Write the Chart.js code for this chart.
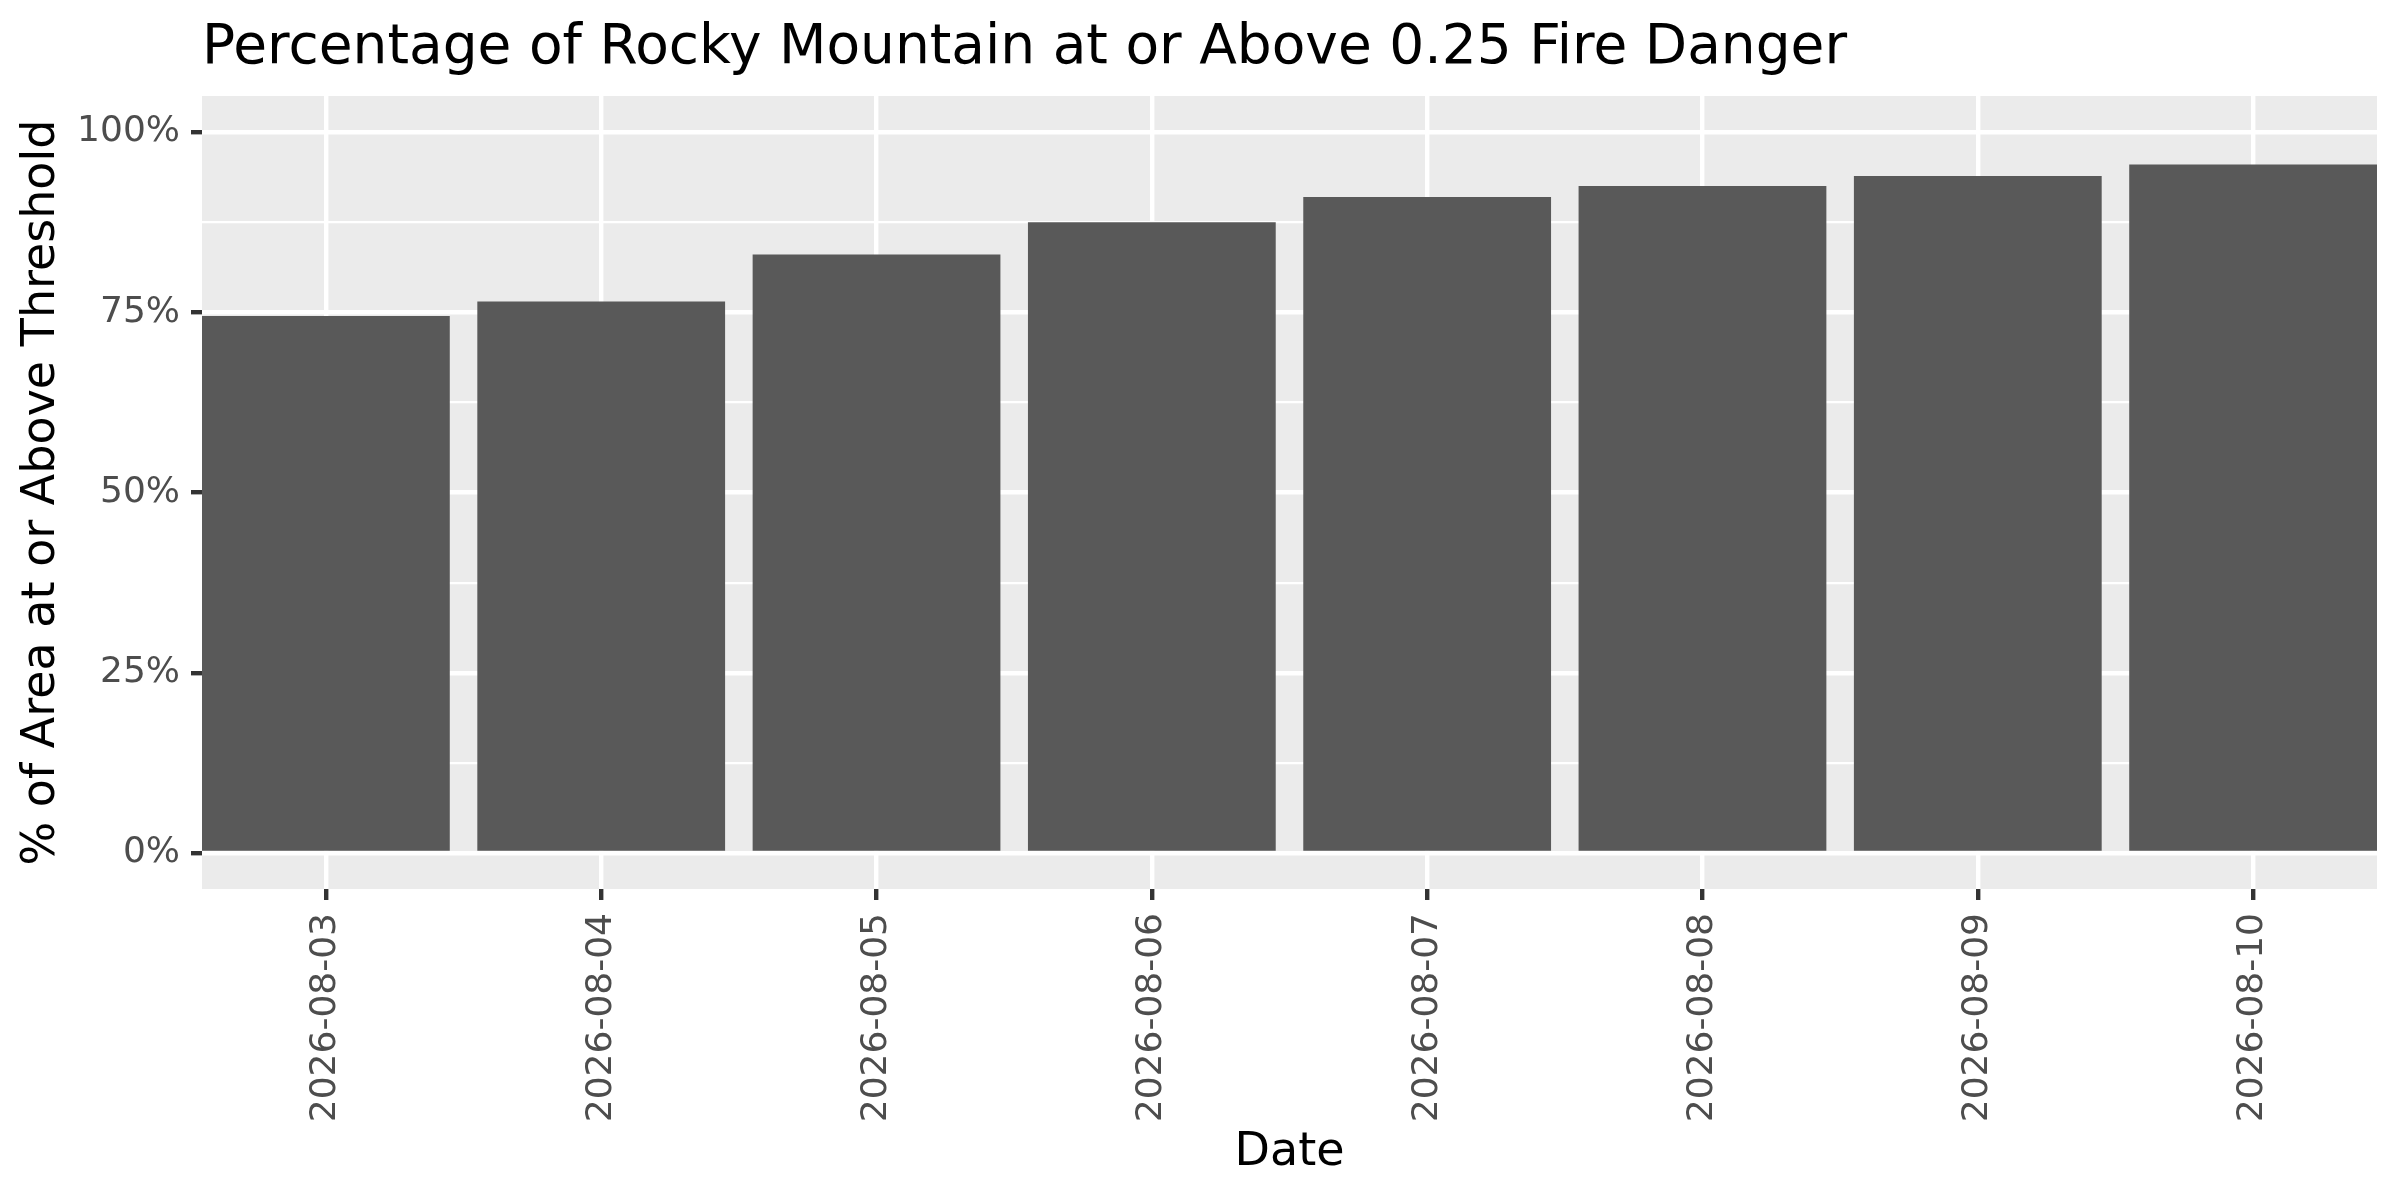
<!DOCTYPE html>
<html>
<head>
<meta charset="utf-8">
<title>Rocky Mountain fire danger</title>
<script src="https://cdn.jsdelivr.net/npm/chart.js@4.4.1/dist/chart.umd.min.js"></script>
<style>
    body { margin: 0; background: #ffffff; }
    #chart { display: block; }
</style>
</head>
<body>
<canvas id="chart" width="2400" height="1200"></canvas>
<script>
const plotTitle = 'Percentage of Rocky Mountain at or Above 0.25 Fire Danger';
const dates = ['2026-08-03', '2026-08-04', '2026-08-05', '2026-08-06',
               '2026-08-07', '2026-08-08', '2026-08-09', '2026-08-10'];
const pctAbove = [74.5, 76.5, 83.0, 87.5, 91.0, 92.5, 93.9, 95.5];
const yBreaks = [0, 25, 50, 75, 100];
const yLabels = ['0%', '25%', '50%', '75%', '100%'];
const yMinorBreaks = [12.5, 37.5, 62.5, 87.5];

const barWidth = 0.9;   // in days, like geom_col
const textGrey = '#4D4D4D';
const tickGrey = '#333333';

// minor breaks on the date axis sit halfway between days
function minorDateBreaks(){
    let out = [];
    for (let i = 0; i < dates.length - 1; i++) {
        out.push(i + 0.5);
    }
    return out
}

const panelBg = {
    id: 'panelBg',
    beforeDraw(chart) {
        const {ctx, chartArea} = chart;
        ctx.save();
        ctx.fillStyle = '#EBEBEB';
        ctx.fillRect(chartArea.left, chartArea.top,
                     chartArea.right - chartArea.left, chartArea.bottom - chartArea.top);
        ctx.restore();
    }
};

const titleLeft = {
    id: 'titleLeft',
    afterDraw(chart) {
        const ctx = chart.ctx;
        ctx.save();
        ctx.fillStyle = '#000000';
        ctx.font = '55px "DejaVu Sans"';
        ctx.textAlign = 'left';
        ctx.textBaseline = 'alphabetic';
        ctx.fillText(plotTitle, chart.chartArea.left, 63);
        ctx.restore();
    }
};

(function (){
    Chart.defaults.font.family = '"DejaVu Sans"';
    const xMin = -barWidth / 2;
    const xMax = dates.length - 1 + barWidth / 2;

    const points = [];
    for (let i = 0; i < dates.length; i++) {
        points.push({x: i, y: pctAbove[i]});
    }

    new Chart(document.getElementById('chart'), {
        type: 'bar',
        data: {
            datasets: [{
                data: points,
                backgroundColor: '#595959',
                borderWidth: 0,
                barPercentage: barWidth,
                categoryPercentage: 1.0
            }]
        },
        options: {
            responsive: false,
            animation: false,
            devicePixelRatio: 1,
            layout: { padding: { top: 96, right: 23, bottom: 0, left: 0 } },
            plugins: {
                legend: { display: false },
                tooltip: { enabled: false }
            },
            scales: {
                x: {
                    type: 'linear',
                    position: 'bottom',
                    min: xMin,
                    max: xMax,
                    offset: false,
                    afterBuildTicks: axis => {
                        axis.ticks = dates.map((d, i) => ({value: i}));
                    },
                    afterFit: axis => { axis.height = 311; },
                    border: { display: false },
                    grid: {
                        offset: false,
                        color: '#FFFFFF',
                        lineWidth: 4.4,
                        tickLength: 11,
                        tickWidth: 4.4,
                        tickColor: tickGrey
                    },
                    ticks: {
                        autoSkip: false,
                        minRotation: 90,
                        maxRotation: 90,
                        padding: 13,
                        color: textGrey,
                        font: { size: 36 },
                        callback: v => dates[v]
                    },
                    title: {
                        display: true,
                        text: 'Date',
                        color: '#000000',
                        font: { size: 46 },
                        padding: { top: 0, bottom: 19 }
                    }
                },
                xMinor: {
                    type: 'linear',
                    position: 'bottom',
                    min: xMin,
                    max: xMax,
                    offset: false,
                    afterBuildTicks: axis => {
                        axis.ticks = minorDateBreaks().map(v => ({value: v}));
                    },
                    afterFit: axis => { axis.height = 0; },
                    border: { display: false },
                    grid: { color: '#FFFFFF', lineWidth: 2.2, drawTicks: false },
                    ticks: { display: false }
                },
                y: {
                    type: 'linear',
                    min: -5,
                    max: 105,
                    afterBuildTicks: axis => {
                        axis.ticks = yBreaks.concat(yMinorBreaks)
                            .sort((a, b) => a - b)
                            .map(v => ({value: v}));
                    },
                    afterFit: axis => { axis.width = 202; },
                    border: { display: false },
                    grid: {
                        color: '#FFFFFF',
                        lineWidth: ctx => (ctx.tick && yBreaks.includes(ctx.tick.value)) ? 4.4 : 2.2,
                        tickLength: 11,
                        tickWidth: 4.4,
                        tickColor: ctx => (ctx.tick && yBreaks.includes(ctx.tick.value)) ? tickGrey : 'rgba(0,0,0,0)'
                    },
                    ticks: {
                        autoSkip: false,
                        padding: 11,
                        color: textGrey,
                        font: { size: 36 },
                        callback: v => {
                            const i = yBreaks.indexOf(v);
                            return i < 0 ? '' : yLabels[i];
                        }
                    },
                    title: {
                        display: true,
                        text: '% of Area at or Above Threshold',
                        color: '#000000',
                        font: { size: 46 },
                        padding: { top: 14, bottom: 0 }
                    }
                }
            }
        },
        plugins: [panelBg, titleLeft]
    });
})();
</script>
</body>
</html>
